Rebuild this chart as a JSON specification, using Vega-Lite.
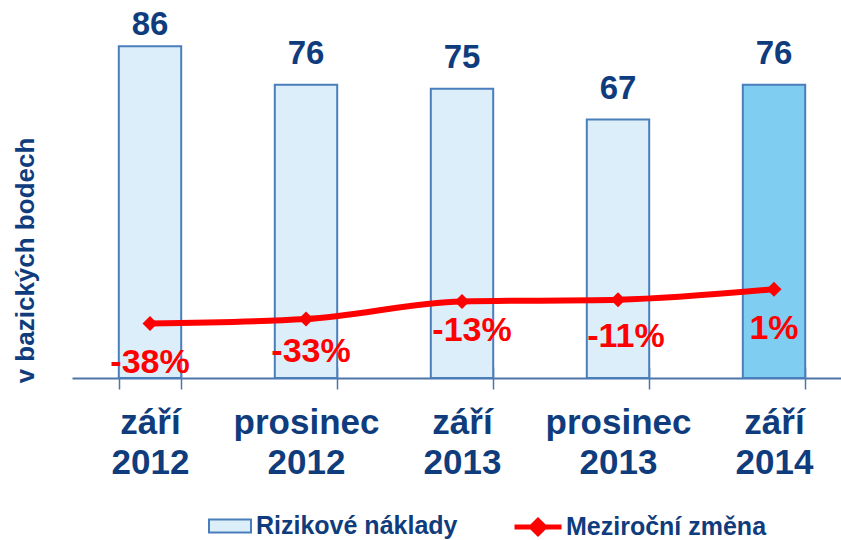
{
  "$schema": "https://vega.github.io/schema/vega-lite/v6.json",
  "width": 769,
  "height": 378,
  "autosize": "none",
  "padding": {"left": 72, "top": 0, "right": 0, "bottom": 162},
  "background": "white",
  "config": {"view": {"stroke": null}, "font": "Liberation Sans"},
  "data": {
    "values": [
      {"obdobi": "září 2012", "naklady": 86, "zmena": -38, "zmena_label": "-38%"},
      {"obdobi": "prosinec 2012", "naklady": 76, "zmena": -33, "zmena_label": "-33%"},
      {"obdobi": "září 2013", "naklady": 75, "zmena": -13, "zmena_label": "-13%"},
      {"obdobi": "prosinec 2013", "naklady": 67, "zmena": -11, "zmena_label": "-11%"},
      {"obdobi": "září 2014", "naklady": 76, "zmena": 1, "zmena_label": "1%"}
    ]
  },
  "resolve": {"scale": {"y": "independent"}, "axis": {"x": "independent"}},
  "layer": [
    {
      "encoding": {
        "x": {
          "field": "obdobi", "type": "nominal", "sort": null,
          "scale": {"range": [0, 780], "paddingInner": 0.6, "paddingOuter": 0.3},
          "axis": {
            "orient": "bottom", "title": null, "grid": false, "domain": true, "domainColor": "#4F74A8", "domainWidth": 2,
            "ticks": true, "tickBand": "extent", "tickSize": 11, "tickColor": "#4F74A8", "tickWidth": 1.5,
            "labelAngle": 0, "labelExpr": "split(datum.label, ' ')",
            "labelFont": "Liberation Sans", "labelFontSize": 35, "labelFontWeight": "bold",
            "labelColor": "#0F3C7D", "labelLineHeight": 40, "labelPadding": 16, "labelBaseline": "top", "labelLimit": 300
          }
        },
        "y": {
          "field": "naklady", "type": "quantitative",
          "scale": {"domain": [0, 98]},
          "axis": {
            "title": "v bazických bodech", "labels": false, "ticks": false, "domain": false, "grid": false,
            "titleFont": "Liberation Sans", "titleFontSize": 26, "titleFontWeight": "bold", "titleColor": "#0F3C7D",
            "titleAngle": 270, "titleX": -47, "titleY": 260, "titleAlign": "center", "titleBaseline": "middle"
          }
        }
      },
      "layer": [
        {
          "mark": {"type": "bar", "stroke": "#4A7EBB", "strokeWidth": 2},
          "encoding": {
            "fill": {
              "datum": "Rizikové náklady", "type": "nominal",
              "scale": {"range": ["#DDEEFB"]},
              "condition": {"test": "datum.obdobi === 'září 2014'", "value": "#80CDF2"},
              "legend": {
                "title": null, "orient": "none", "legendX": 136, "legendY": 504, "padding": 0,
                "symbolType": "M-1,-0.31H1V0.31H-1Z", "symbolSize": 1764,
                "symbolStrokeColor": "#4A7EBB", "symbolStrokeWidth": 2,
                "labelFont": "Liberation Sans", "labelFontSize": 25, "labelFontWeight": "bold",
                "labelColor": "#0F3C7D", "labelOffset": 4, "labelLimit": 400
              }
            }
          }
        },
        {
          "transform": [{"filter": "datum.obdobi !== 'září 2012'"}],
          "mark": {"type": "text", "font": "Liberation Sans", "fontSize": 33, "fontWeight": "bold", "color": "#0F3C7D", "baseline": "alphabetic", "dy": -21},
          "encoding": {"text": {"field": "naklady", "type": "quantitative"}}
        },
        {
          "transform": [{"filter": "datum.obdobi === 'září 2012'"}],
          "mark": {"type": "text", "font": "Liberation Sans", "fontSize": 33, "fontWeight": "bold", "color": "#0F3C7D", "baseline": "alphabetic", "dy": -11},
          "encoding": {"text": {"field": "naklady", "type": "quantitative"}}
        }
      ]
    },
    {
      "encoding": {
        "x": {
          "field": "obdobi", "type": "nominal", "sort": null,
          "scale": {"range": [0, 780], "paddingInner": 0.6, "paddingOuter": 0.3},
          "axis": {
            "orient": "bottom", "title": null, "grid": false, "domain": false,
            "labels": false, "ticks": true, "tickBand": "extent", "tickSize": -11, "tickColor": "#4F74A8", "tickWidth": 1.5
          }
        },
        "y": {
          "field": "zmena", "type": "quantitative",
          "scale": {"domain": [-100, 330]},
          "axis": null
        }
      },
      "layer": [
        {
          "mark": {"type": "line", "interpolate": "monotone", "strokeWidth": 6},
          "encoding": {
            "stroke": {
              "datum": "Meziroční změna", "type": "nominal",
              "scale": {"range": ["#FF0000"]},
              "legend": {
                "title": null, "orient": "none", "legendX": 440, "legendY": 501, "padding": 0,
                "symbolType": "M-1,0H1M-0.28,0L0,-0.28L0.28,0L0,0.28Z", "symbolSize": 2209,
                "symbolStrokeWidth": 5, "symbolFillColor": "#FF0000", "symbolStrokeColor": "#FF0000",
                "labelFont": "Liberation Sans", "labelFontSize": 25, "labelFontWeight": "bold",
                "labelColor": "#0F3C7D", "labelOffset": 2, "labelLimit": 400
              }
            }
          }
        },
        {
          "mark": {"type": "point", "shape": "diamond", "filled": true, "size": 225, "color": "#FF0000", "opacity": 1}
        },
        {
          "transform": [{"filter": "datum.zmena_label === '-38%' || datum.zmena_label === '1%'"}],
          "mark": {"type": "text", "font": "Liberation Sans", "fontSize": 34, "fontWeight": "bold", "color": "#FF0000", "baseline": "alphabetic", "dy": 50},
          "encoding": {"text": {"field": "zmena_label", "type": "nominal"}}
        },
        {
          "transform": [{"filter": "datum.zmena_label === '-33%'"}],
          "mark": {"type": "text", "font": "Liberation Sans", "fontSize": 34, "fontWeight": "bold", "color": "#FF0000", "baseline": "alphabetic", "dy": 43, "dx": 5},
          "encoding": {"text": {"field": "zmena_label", "type": "nominal"}}
        },
        {
          "transform": [{"filter": "datum.zmena_label === '-13%'"}],
          "mark": {"type": "text", "font": "Liberation Sans", "fontSize": 34, "fontWeight": "bold", "color": "#FF0000", "baseline": "alphabetic", "dy": 39, "dx": 10},
          "encoding": {"text": {"field": "zmena_label", "type": "nominal"}}
        },
        {
          "transform": [{"filter": "datum.zmena_label === '-11%'"}],
          "mark": {"type": "text", "font": "Liberation Sans", "fontSize": 34, "fontWeight": "bold", "color": "#FF0000", "baseline": "alphabetic", "dy": 47, "dx": 8},
          "encoding": {"text": {"field": "zmena_label", "type": "nominal"}}
        }
      ]
    }
  ]
}
